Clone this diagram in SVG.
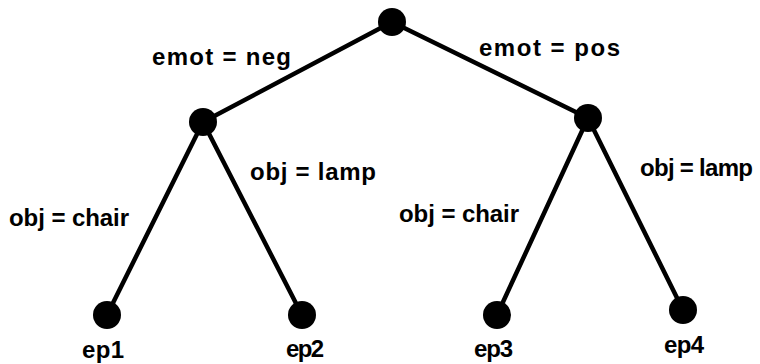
<svg xmlns="http://www.w3.org/2000/svg" width="760" height="364" viewBox="0 0 760 364">
  <style>
    .edge { stroke: #000; stroke-width: 4.5; stroke-linecap: round; fill: none; }
    .node { fill: #000; }
    .lbl { font-family: "Liberation Sans", Arial, sans-serif; font-weight: bold; font-size: 24px; fill: #000; }
  </style>
  <rect width="760" height="364" fill="#fff"/>
  <g id="edges">
    <line class="edge" x1="392" y1="22" x2="203" y2="122"/>
    <line class="edge" x1="392" y1="22" x2="588" y2="118"/>
    <line class="edge" x1="203" y1="122" x2="107" y2="315"/>
    <line class="edge" x1="203" y1="122" x2="302" y2="315"/>
    <line class="edge" x1="588" y1="118" x2="497" y2="315"/>
    <line class="edge" x1="588" y1="118" x2="683" y2="310"/>
  </g>
  <g id="root"><circle class="node" cx="392" cy="22" r="14"/></g>
  <g id="n-neg"><circle class="node" cx="203" cy="122" r="14"/></g>
  <g id="n-pos"><circle class="node" cx="588" cy="118" r="14"/></g>
  <g id="ep1"><circle class="node" cx="107" cy="315" r="14"/><text class="lbl" x="82" y="358" textLength="42">ep1</text></g>
  <g id="ep2"><circle class="node" cx="302" cy="315" r="14"/><text class="lbl" x="286" y="357" textLength="38">ep2</text></g>
  <g id="ep3"><circle class="node" cx="497" cy="315" r="14"/><text class="lbl" x="474" y="357" textLength="39">ep3</text></g>
  <g id="ep4"><circle class="node" cx="683" cy="310" r="14"/><text class="lbl" x="664" y="353" textLength="40">ep4</text></g>
  <g id="labels">
    <text class="lbl" x="152" y="65" textLength="139">emot = neg</text>
    <text class="lbl" x="479" y="56" textLength="141">emot = pos</text>
    <text class="lbl" x="9" y="226" textLength="120">obj = chair</text>
    <text class="lbl" x="250" y="180" textLength="126">obj = lamp</text>
    <text class="lbl" x="399" y="222" textLength="120">obj = chair</text>
    <text class="lbl" x="640" y="176" textLength="113">obj = lamp</text>
  </g>
</svg>
